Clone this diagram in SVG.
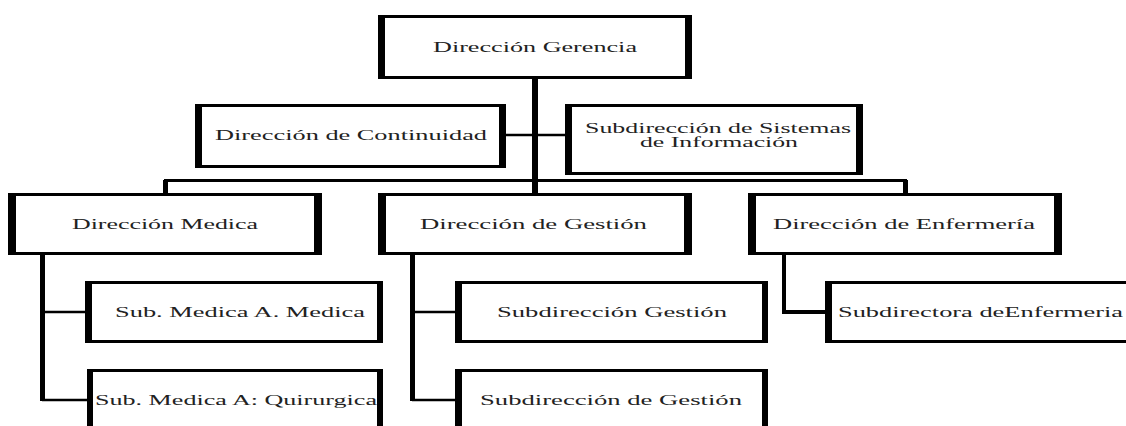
<svg xmlns="http://www.w3.org/2000/svg" width="1126" height="426" viewBox="0 0 1126 426">
<style>
.box{fill:#fff;stroke:#000;stroke-width:3}
.side{fill:#000}
.lbl{font-family:"Liberation Serif","DejaVu Serif","Times New Roman",serif;font-size:15px;fill:#222}
.lk{stroke:#000;fill:none}
</style>
<rect width="1126" height="426" fill="#fff"/>
<g id="connectors">
<line class="lk" x1="535" y1="79" x2="535" y2="193" stroke-width="6"/>
<line class="lk" x1="506" y1="135" x2="535" y2="135" stroke-width="2.5"/>
<line class="lk" x1="535" y1="135" x2="565" y2="135" stroke-width="2.5"/>
<polyline class="lk" points="165.5,193 165.5,180.5 905.5,180.5 905.5,193" stroke-width="3"/>
<line class="lk" x1="165.5" y1="180" x2="165.5" y2="193" stroke-width="5"/>
<line class="lk" x1="905.5" y1="180" x2="905.5" y2="193" stroke-width="5"/>
<line class="lk" x1="42.5" y1="255" x2="42.5" y2="401" stroke-width="5"/>
<line class="lk" x1="42" y1="312" x2="85" y2="312" stroke-width="2.5"/>
<line class="lk" x1="42" y1="400" x2="87" y2="400" stroke-width="2.5"/>
<line class="lk" x1="412.5" y1="255" x2="412.5" y2="401" stroke-width="5"/>
<line class="lk" x1="412" y1="312" x2="455" y2="312" stroke-width="2.5"/>
<line class="lk" x1="412" y1="400" x2="455" y2="400" stroke-width="2.5"/>
<polyline class="lk" points="784,255 784,312 825,312" stroke-width="4"/>
</g>
<g id="n-gerencia">
<rect class="box" x="379.5" y="16.5" width="311" height="61"/>
<rect class="side" x="378" y="15" width="7" height="64"/>
<rect class="side" x="685" y="15" width="7" height="64"/>
<text class="lbl" x="433" y="52" textLength="204" lengthAdjust="spacingAndGlyphs">Dirección Gerencia</text>
</g>
<g id="n-continuidad">
<rect class="box" x="196.5" y="105.5" width="308" height="61"/>
<rect class="side" x="195" y="104" width="7" height="64"/>
<rect class="side" x="499" y="104" width="7" height="64"/>
<text class="lbl" x="215" y="140" textLength="272" lengthAdjust="spacingAndGlyphs">Dirección de Continuidad</text>
</g>
<g id="n-sistemas">
<rect class="box" x="566.5" y="105.5" width="295" height="68"/>
<rect class="side" x="565" y="104" width="7" height="71"/>
<rect class="side" x="856" y="104" width="7" height="71"/>
<text class="lbl" x="585" y="133" textLength="266" lengthAdjust="spacingAndGlyphs" style="font-size:14px">Subdirección de Sistemas</text>
<text class="lbl" x="640" y="147" textLength="158" lengthAdjust="spacingAndGlyphs" style="font-size:14px">de Información</text>
</g>
<g id="n-medica">
<rect class="box" x="9.5" y="194.5" width="311" height="59"/>
<rect class="side" x="8" y="193" width="8" height="62"/>
<rect class="side" x="314" y="193" width="8" height="62"/>
<text class="lbl" x="72" y="229" textLength="186" lengthAdjust="spacingAndGlyphs">Dirección Medica</text>
</g>
<g id="n-gestion">
<rect class="box" x="379.5" y="194.5" width="311" height="59"/>
<rect class="side" x="378" y="193" width="8" height="62"/>
<rect class="side" x="684" y="193" width="8" height="62"/>
<text class="lbl" x="420" y="229" textLength="227" lengthAdjust="spacingAndGlyphs">Dirección de Gestión</text>
</g>
<g id="n-enfermeria">
<rect class="box" x="749.5" y="194.5" width="311" height="59"/>
<rect class="side" x="748" y="193" width="8" height="62"/>
<rect class="side" x="1054" y="193" width="8" height="62"/>
<text class="lbl" x="773" y="229" textLength="262" lengthAdjust="spacingAndGlyphs">Dirección de Enfermería</text>
</g>
<g id="n-sub-medica-a">
<rect class="box" x="86.5" y="282.5" width="295" height="59"/>
<rect class="side" x="85" y="281" width="7" height="62"/>
<rect class="side" x="377" y="281" width="6" height="62"/>
<text class="lbl" x="115" y="317" textLength="250" lengthAdjust="spacingAndGlyphs">Sub. Medica A. Medica</text>
</g>
<g id="n-sub-medica-q">
<rect class="box" x="88.5" y="370.5" width="293" height="70"/>
<rect class="side" x="87" y="369" width="6" height="73"/>
<rect class="side" x="377" y="369" width="6" height="73"/>
<text class="lbl" x="95" y="405" textLength="282" lengthAdjust="spacingAndGlyphs">Sub. Medica A: Quirurgica</text>
</g>
<g id="n-sub-gestion">
<rect class="box" x="456.5" y="282.5" width="310" height="59"/>
<rect class="side" x="455" y="281" width="7" height="62"/>
<rect class="side" x="762" y="281" width="6" height="62"/>
<text class="lbl" x="497" y="317" textLength="230" lengthAdjust="spacingAndGlyphs">Subdirección Gestión</text>
</g>
<g id="n-sub-gestion-de">
<rect class="box" x="456.5" y="370.5" width="310" height="70"/>
<rect class="side" x="455" y="369" width="7" height="73"/>
<rect class="side" x="762" y="369" width="6" height="73"/>
<text class="lbl" x="480" y="405" textLength="262" lengthAdjust="spacingAndGlyphs">Subdirección de Gestión</text>
</g>
<g id="n-sub-enfermeria">
<rect class="box" x="826.5" y="282.5" width="320" height="59"/>
<rect class="side" x="825" y="281" width="7" height="62"/>
<text class="lbl" x="838" y="317" textLength="285" lengthAdjust="spacingAndGlyphs">Subdirectora deEnfermeria</text>
</g>
</svg>
